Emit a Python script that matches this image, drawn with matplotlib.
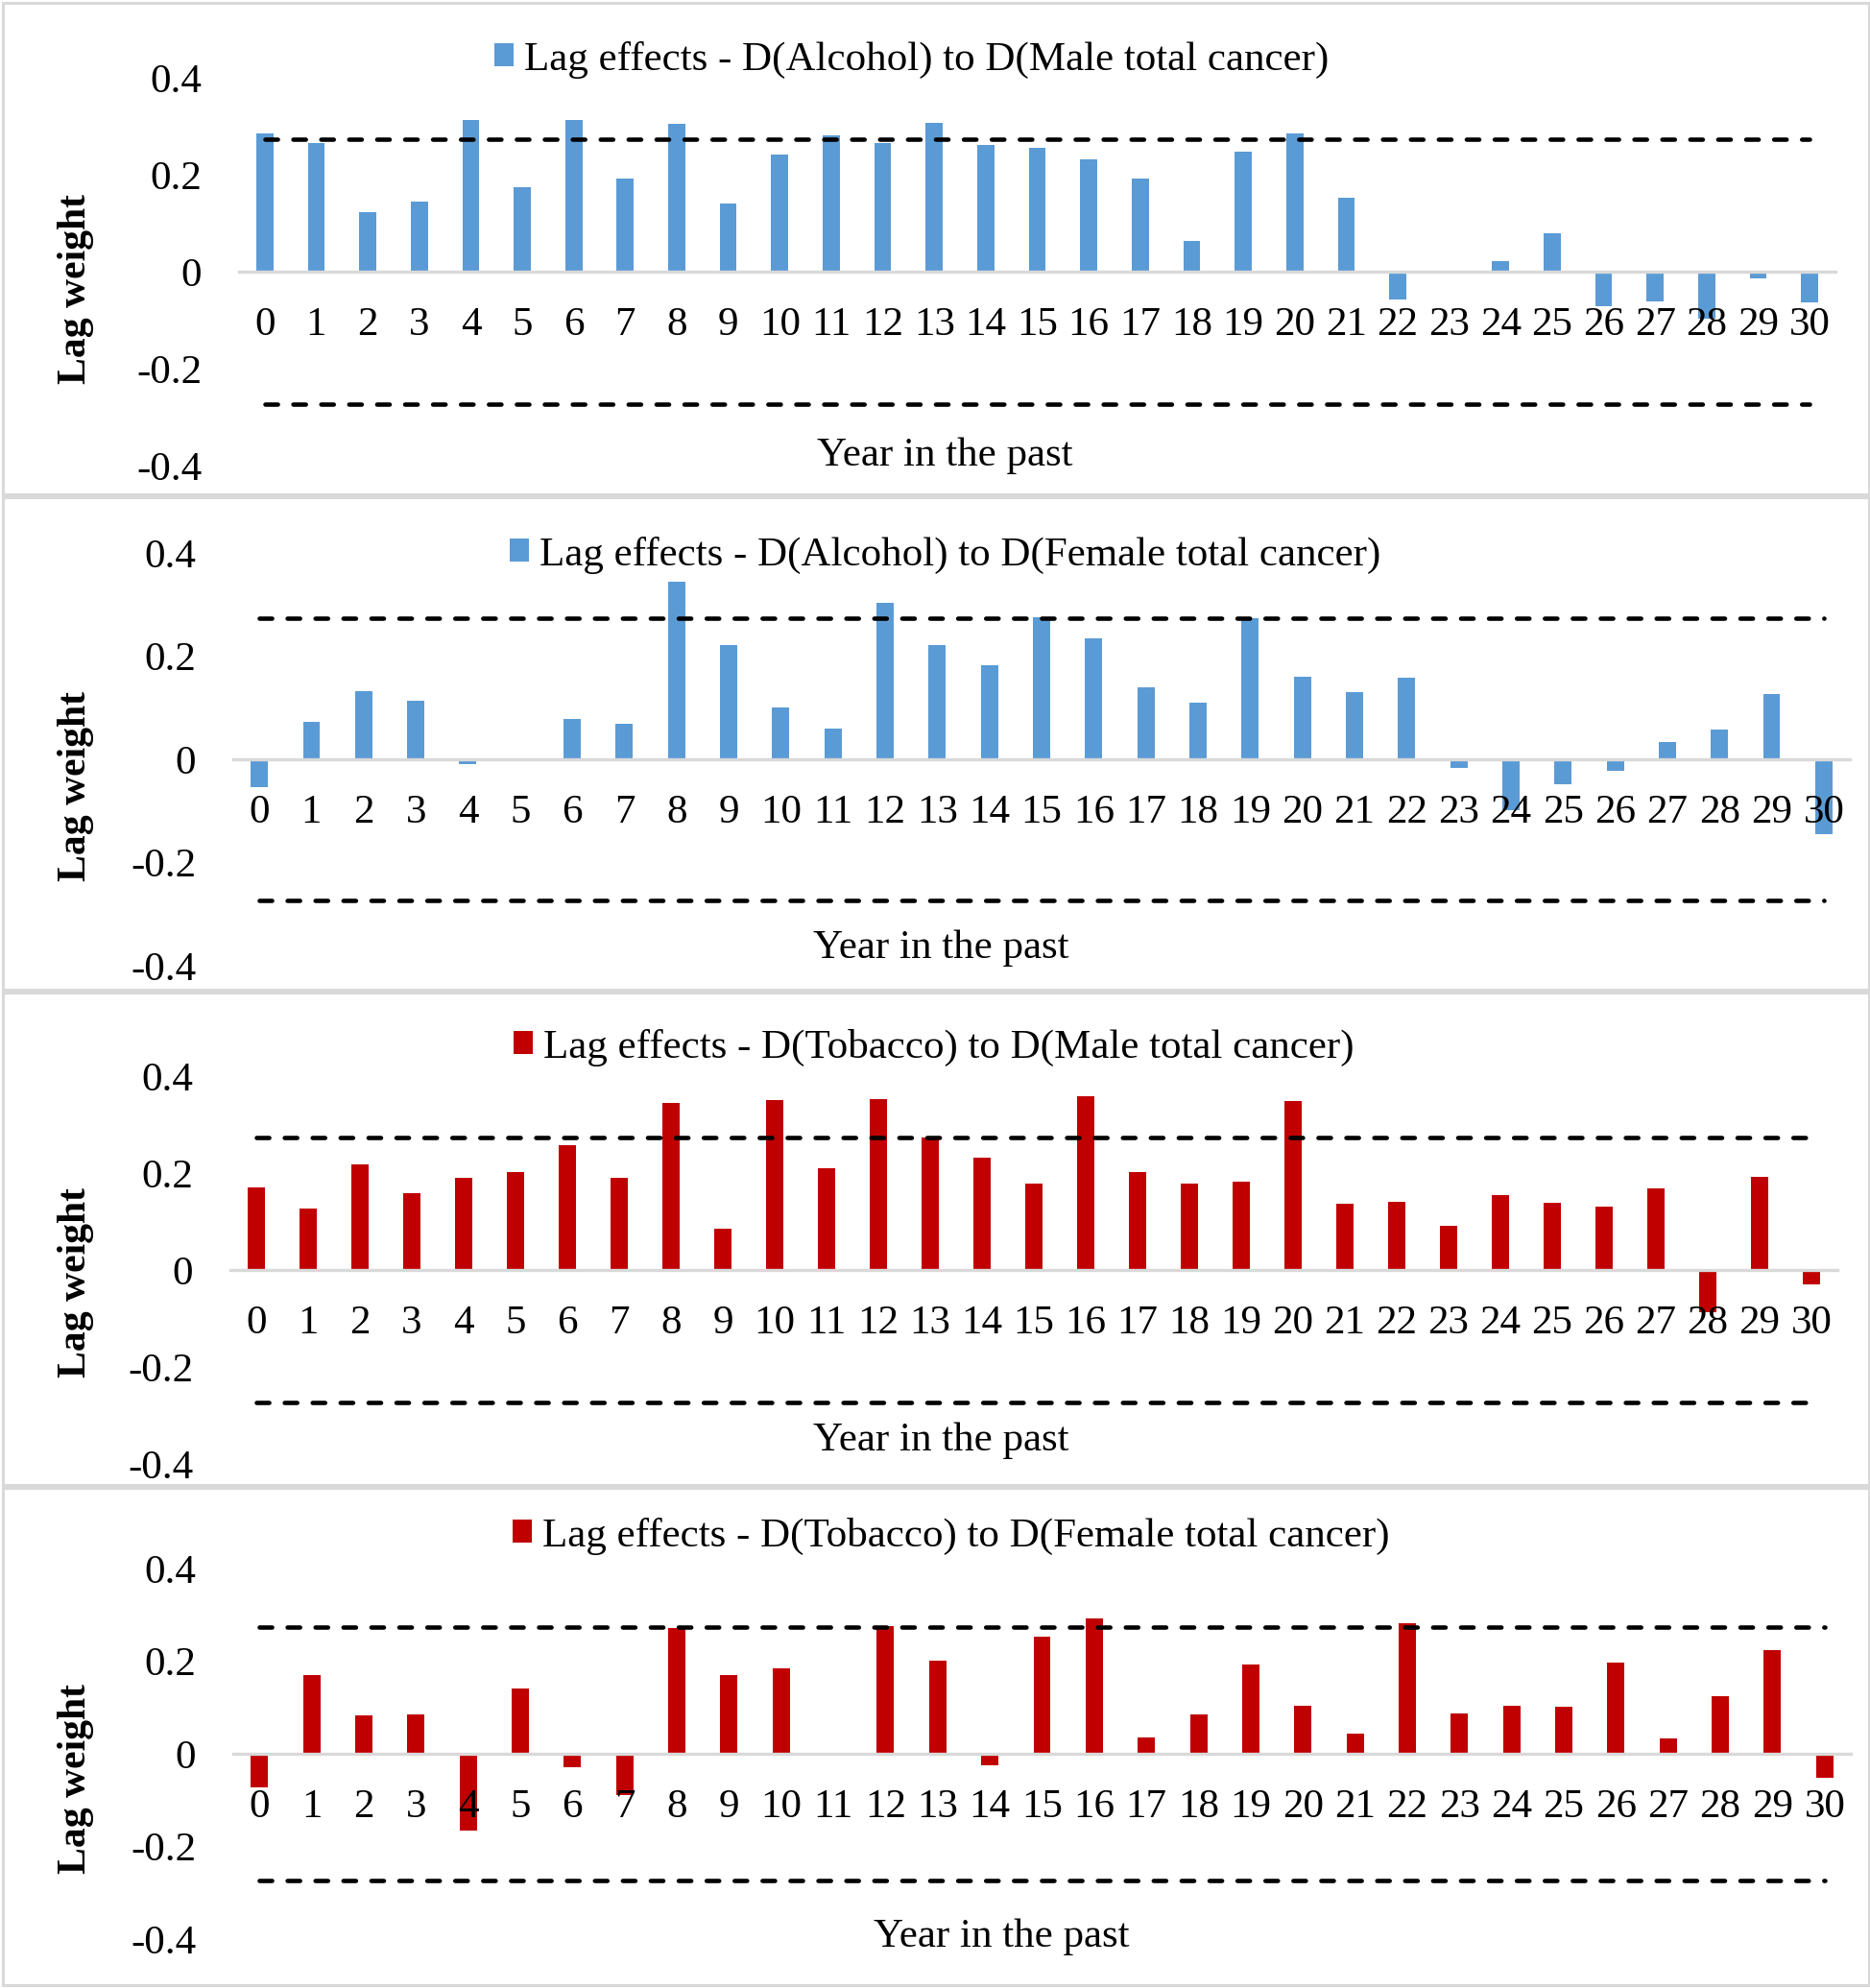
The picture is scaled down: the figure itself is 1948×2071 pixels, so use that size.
import matplotlib
matplotlib.use("Agg")
import matplotlib.pyplot as plt
from matplotlib.patches import Rectangle

plt.rcParams['font.family'] = ['Liberation Serif', 'DejaVu Serif']

# ---- data ----
years = list(range(31))
alc_male = [0.285, 0.265, 0.122, 0.144, 0.313, 0.174, 0.313, 0.192, 0.304, 0.140,
            0.241, 0.282, 0.266, 0.306, 0.262, 0.256, 0.232, 0.193, 0.064, 0.248,
            0.285, 0.153, -0.058, 0.0, 0.021, 0.079, -0.071, -0.062, -0.097, -0.013, -0.064]
alc_female = [-0.054, 0.073, 0.133, 0.114, -0.010, 0.0, 0.078, 0.069, 0.345, 0.222,
              0.101, 0.060, 0.303, 0.221, 0.183, 0.276, 0.235, 0.140, 0.110, 0.273,
              0.160, 0.130, 0.159, -0.017, -0.099, -0.048, -0.022, 0.034, 0.057, 0.127, -0.146]
tob_male = [0.171, 0.127, 0.218, 0.159, 0.191, 0.201, 0.258, 0.191, 0.345, 0.086,
            0.351, 0.209, 0.353, 0.273, 0.232, 0.178, 0.359, 0.201, 0.178, 0.183,
            0.348, 0.136, 0.140, 0.091, 0.154, 0.138, 0.130, 0.168, -0.088, 0.193, -0.030]
tob_female = [-0.072, 0.169, 0.083, 0.085, -0.166, 0.141, -0.029, -0.089, 0.271, 0.169,
              0.184, -0.004, 0.275, 0.202, -0.024, 0.253, 0.292, 0.036, 0.085, 0.193,
              0.104, 0.043, 0.281, 0.087, 0.104, 0.101, 0.196, 0.033, 0.125, 0.223, -0.051]
threshold = 0.273
y_ticks = [-0.4, -0.2, 0, 0.2, 0.4]
y_ticklabels = ['-0.4', '-0.2', '0', '0.2', '0.4']

series = [alc_male, alc_female, tob_male, tob_female]
titles = ["Lag effects - D(Alcohol) to D(Male total cancer)",
          "Lag effects - D(Alcohol) to D(Female total cancer)",
          "Lag effects - D(Tobacco) to D(Male total cancer)",
          "Lag effects - D(Tobacco) to D(Female total cancer)"]
colors = ['#5B9BD5', '#5B9BD5', '#C00000', '#C00000']

# ---- layout in pixels of the 1949x2071 image ----
W, H = 1949, 2071
# axes box: x0, x1, ytop, ybottom
axes_px = [(249, 1912, 81, 485), (243, 1927, 576, 1006),
           (240, 1914, 1121, 1525), (243, 1928, 1634, 2020)]
frames_px = [(3, 3, 1944, 512), (3, 518, 1944, 513), (3, 1034, 1944, 513), (3, 1550, 1944, 518)]
legend_px = [(515, 62), (531, 578), (535, 1091), (534, 1600)]
ylabel_px = [(79, 301), (79, 819), (79, 1336), (79, 1853)]
xlabel_px = [(984, 475), (980, 988), (980, 1501), (1043, 2018)]

fs = 31

fig = plt.figure(figsize=(W / 100, H / 100), dpi=100)

for k in range(4):
    fx, fy, fw, fh = frames_px[k]
    fig.add_artist(Rectangle((fx / W, 1 - (fy + fh) / H), fw / W, fh / H,
                             transform=fig.transFigure, fill=False,
                             edgecolor='#D9D9D9', linewidth=2.2))

    x0, x1, yt, yb = axes_px[k]
    ax = fig.add_axes([x0 / W, 1 - yb / H, (x1 - x0) / W, (yb - yt) / H])
    bars = ax.bar(years, series[k], width=0.33, color=colors[k], label=titles[k], zorder=1)
    for lvl in (threshold, -threshold):
        ax.plot([0, 30], [lvl, lvl], color='black', linewidth=3.3,
                linestyle=(0, (2.85, 3.5)), dash_capstyle='round', zorder=3)

    ax.set_xlim(-0.5, 30.5)
    ax.set_ylim(-0.4, 0.4)
    for s in ['top', 'right', 'left']:
        ax.spines[s].set_visible(False)
    ax.spines['bottom'].set_position(('data', 0))
    ax.spines['bottom'].set_color('#D9D9D9')
    ax.spines['bottom'].set_linewidth(2.4)
    ax.set_xticks(years)
    ax.set_xticklabels([str(y) for y in years])
    ax.set_yticks(y_ticks)
    ax.set_yticklabels(y_ticklabels)
    ax.tick_params(axis='x', length=0, pad=26, labelsize=fs)
    ax.tick_params(axis='y', length=0, pad=28, labelsize=fs)
    ax.patch.set_alpha(0)

    lx, ly = legend_px[k]
    ax.legend(handles=[bars], loc='center left', bbox_to_anchor=(lx / W, 1 - ly / H),
              bbox_transform=fig.transFigure, frameon=False, fontsize=fs,
              handlelength=0.47, handleheight=0.47, handletextpad=0.25,
              borderpad=0, borderaxespad=0)

    yx, yy = ylabel_px[k]
    fig.text(yx / W, 1 - yy / H, "Lag weight", rotation=90, ha='center', va='center',
             fontsize=fs - 1, fontweight='bold')
    xx, xy = xlabel_px[k]
    fig.text(xx / W, 1 - xy / H, "Year in the past", ha='center', va='center', fontsize=fs)

fig.savefig("out.png", dpi=100, facecolor='white')
